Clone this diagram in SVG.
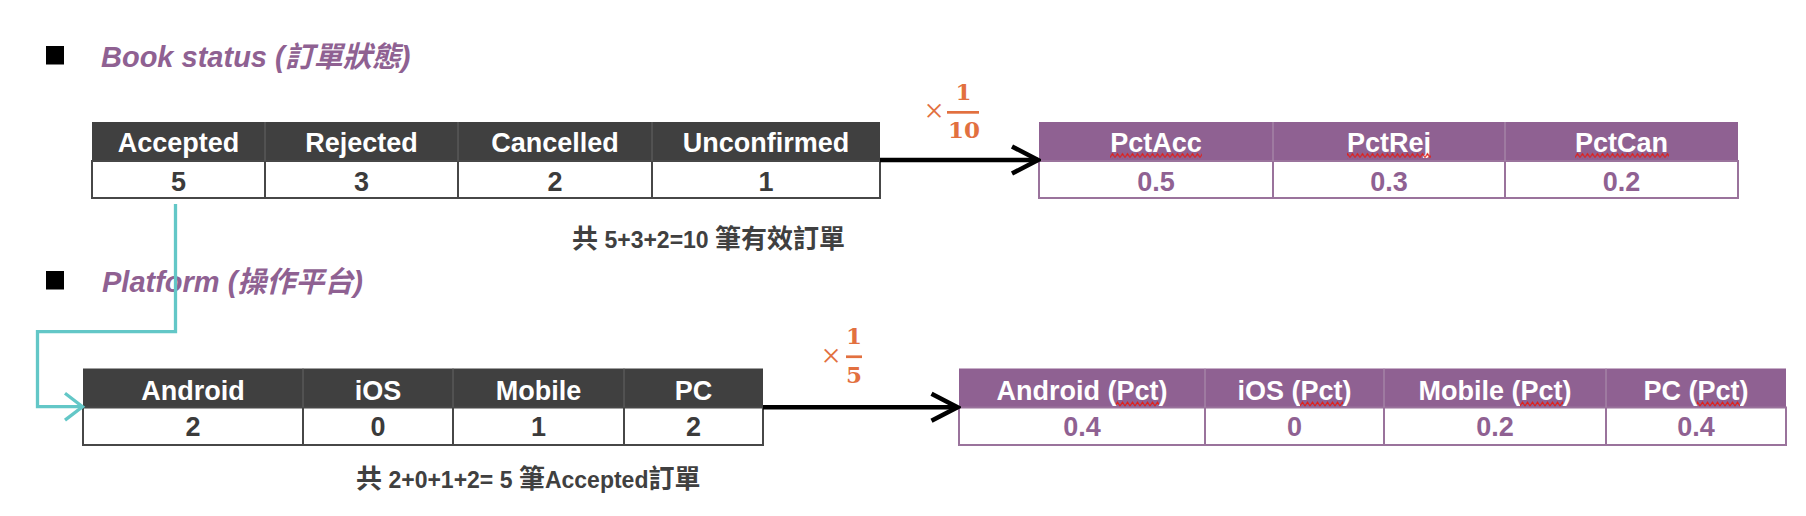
<svg xmlns="http://www.w3.org/2000/svg" width="1806" height="516" viewBox="0 0 1806 516">
<style>
  text { font-family: "Liberation Sans", "Noto Sans CJK TC", sans-serif; }
  .title { font-size: 29px; font-weight: bold; font-style: italic; fill: #8F6192; }
  .hdr { font-size: 27px; font-weight: bold; fill: #ffffff; text-anchor: middle; }
  .val { font-size: 27px; font-weight: bold; fill: #3b3b3b; text-anchor: middle; }
  .pval { font-size: 27px; font-weight: bold; fill: #8F6192; text-anchor: middle; }
  .cap { font-size: 23px; font-weight: bold; fill: #404040; }
  .cjk { font-size: 26px; }
  .darkhead { fill: #404040; }
  .darkbody { fill: #ffffff; stroke: #474747; stroke-width: 2; }
  .darkdivh { stroke: #5e5e5e; stroke-width: 1.2; }
  .darkdivb { stroke: #474747; stroke-width: 2; }
  .purphead { fill: #8F6192; }
  .purpbody { fill: #ffffff; stroke: #9A739C; stroke-width: 2; }
  .purpdivh { stroke: #A98BAB; stroke-width: 1.2; }
  .purpdivb { stroke: #9A739C; stroke-width: 2; }
  .frac { font-family: "DejaVu Serif", "Liberation Serif", serif; font-size: 23px; font-weight: bold; fill: #E2703F; text-anchor: middle; }
  .times { font-family: "Liberation Serif", serif; font-size: 34px; fill: #E2703F; text-anchor: middle; }
  .bar { fill: #E2703F; }
  .link { fill: none; stroke: #000000; stroke-width: 4.5; }
  .teal { fill: none; stroke: #63C7C7; stroke-width: 3.3; }
</style>
<defs>
  <marker id="chev" markerUnits="userSpaceOnUse" viewBox="0 0 32 32" refX="29" refY="16" markerWidth="32" markerHeight="32" orient="auto">
    <path d="M3,2.5 L29,16 L3,29.5" fill="none" stroke="#000000" stroke-width="4.5"/>
  </marker>
  <marker id="chevTeal" markerUnits="userSpaceOnUse" viewBox="0 0 24 32" refX="21" refY="16" markerWidth="24" markerHeight="32" orient="auto">
    <path d="M3.5,2.6 L21,16 L3.5,29.4" fill="none" stroke="#63C7C7" stroke-width="3.3"/>
  </marker>
  <pattern id="sqTop" patternUnits="userSpaceOnUse" x="0" y="152.5" width="5" height="6">
    <path d="M-1,5 L0,5 L2.5,1.2 L5,5 L6,5" fill="none" stroke="#E0201A" stroke-width="1.2"/>
  </pattern>
  <pattern id="sqBot" patternUnits="userSpaceOnUse" x="0" y="401" width="5" height="6">
    <path d="M-1,5 L0,5 L2.5,1.2 L5,5 L6,5" fill="none" stroke="#E0201A" stroke-width="1.2"/>
  </pattern>
</defs>
<rect x="0" y="0" width="1806" height="516" fill="#ffffff"/>

<g id="title-book-status">
  <rect x="46" y="46" width="18" height="18.5" fill="#000000"/>
  <text class="title" x="101" y="67">Book status (訂單狀態)</text>
</g>

<g id="title-platform">
  <rect x="46" y="271" width="18" height="18.5" fill="#000000"/>
  <text class="title" x="102" y="291.5">Platform (操作平台)</text>
</g>

<g id="table-book-status">
  <rect class="darkhead" x="92" y="122" width="788" height="39"/>
  <rect class="darkbody" x="92" y="161" width="788" height="37"/>
  <line class="darkdivh" x1="265" y1="122" x2="265" y2="161"/>
  <line class="darkdivh" x1="458" y1="122" x2="458" y2="161"/>
  <line class="darkdivh" x1="652" y1="122" x2="652" y2="161"/>
  <line class="darkdivb" x1="265" y1="161" x2="265" y2="198"/>
  <line class="darkdivb" x1="458" y1="161" x2="458" y2="198"/>
  <line class="darkdivb" x1="652" y1="161" x2="652" y2="198"/>
  <text class="hdr" x="178.5" y="151.5">Accepted</text>
  <text class="hdr" x="361.5" y="151.5">Rejected</text>
  <text class="hdr" x="555" y="151.5">Cancelled</text>
  <text class="hdr" x="766" y="151.5">Unconfirmed</text>
  <text class="val" x="178.5" y="191">5</text>
  <text class="val" x="361.5" y="191">3</text>
  <text class="val" x="555" y="191">2</text>
  <text class="val" x="766" y="191">1</text>
</g>

<g id="table-book-pct">
  <rect class="purphead" x="1039" y="122" width="699" height="39"/>
  <rect class="purpbody" x="1039" y="161" width="699" height="37"/>
  <line class="purpdivh" x1="1273" y1="122" x2="1273" y2="161"/>
  <line class="purpdivh" x1="1505" y1="122" x2="1505" y2="161"/>
  <line class="purpdivb" x1="1273" y1="161" x2="1273" y2="198"/>
  <line class="purpdivb" x1="1505" y1="161" x2="1505" y2="198"/>
  <text class="hdr" x="1156" y="151.5">PctAcc</text>
  <text class="hdr" x="1389" y="151.5">PctRej</text>
  <text class="hdr" x="1621.5" y="151.5">PctCan</text>
  <rect x="1110" y="152.5" width="92" height="6" fill="url(#sqTop)"/>
  <rect x="1347" y="152.5" width="84" height="6" fill="url(#sqTop)"/>
  <rect x="1575" y="152.5" width="94" height="6" fill="url(#sqTop)"/>
  <text class="pval" x="1156" y="191">0.5</text>
  <text class="pval" x="1389" y="191">0.3</text>
  <text class="pval" x="1621.5" y="191">0.2</text>
</g>

<g id="caption-book">
  <text class="cap" x="572" y="248"><tspan class="cjk">共</tspan> 5+3+2=10 <tspan class="cjk">筆有效訂單</tspan></text>
</g>

<g id="table-platform">
  <rect class="darkhead" x="83" y="368.5" width="680" height="39"/>
  <rect class="darkbody" x="83" y="407.5" width="680" height="37.5"/>
  <line class="darkdivh" x1="303" y1="368.5" x2="303" y2="407.5"/>
  <line class="darkdivh" x1="453" y1="368.5" x2="453" y2="407.5"/>
  <line class="darkdivh" x1="624" y1="368.5" x2="624" y2="407.5"/>
  <line class="darkdivb" x1="303" y1="407.5" x2="303" y2="445"/>
  <line class="darkdivb" x1="453" y1="407.5" x2="453" y2="445"/>
  <line class="darkdivb" x1="624" y1="407.5" x2="624" y2="445"/>
  <text class="hdr" x="193" y="399.5">Android</text>
  <text class="hdr" x="378" y="399.5">iOS</text>
  <text class="hdr" x="538.5" y="399.5">Mobile</text>
  <text class="hdr" x="693.5" y="399.5">PC</text>
  <text class="val" x="193" y="436">2</text>
  <text class="val" x="378" y="436">0</text>
  <text class="val" x="538.5" y="436">1</text>
  <text class="val" x="693.5" y="436">2</text>
</g>

<g id="table-platform-pct">
  <rect class="purphead" x="959" y="368.5" width="827" height="39"/>
  <rect class="purpbody" x="959" y="407.5" width="827" height="37.5"/>
  <line class="purpdivh" x1="1205" y1="368.5" x2="1205" y2="407.5"/>
  <line class="purpdivh" x1="1384" y1="368.5" x2="1384" y2="407.5"/>
  <line class="purpdivh" x1="1606" y1="368.5" x2="1606" y2="407.5"/>
  <line class="purpdivb" x1="1205" y1="407.5" x2="1205" y2="445"/>
  <line class="purpdivb" x1="1384" y1="407.5" x2="1384" y2="445"/>
  <line class="purpdivb" x1="1606" y1="407.5" x2="1606" y2="445"/>
  <text class="hdr" x="1082" y="399.5">Android (Pct)</text>
  <text class="hdr" x="1294.5" y="399.5">iOS (Pct)</text>
  <text class="hdr" x="1495" y="399.5">Mobile (Pct)</text>
  <text class="hdr" x="1696" y="399.5">PC (Pct)</text>
  <rect x="1116" y="401" width="43" height="6" fill="url(#sqBot)"/>
  <rect x="1300" y="401" width="43" height="6" fill="url(#sqBot)"/>
  <rect x="1520" y="401" width="43" height="6" fill="url(#sqBot)"/>
  <rect x="1697" y="401" width="43" height="6" fill="url(#sqBot)"/>
  <text class="pval" x="1082" y="436">0.4</text>
  <text class="pval" x="1294.5" y="436">0</text>
  <text class="pval" x="1495" y="436">0.2</text>
  <text class="pval" x="1696" y="436">0.4</text>
</g>

<g id="caption-platform">
  <text class="cap" x="356" y="488"><tspan class="cjk">共</tspan> 2+0+1+2= 5 <tspan class="cjk">筆</tspan>Accepted<tspan class="cjk">訂單</tspan></text>
</g>

<g id="connectors">
  <path id="link-book" class="link" d="M880,160 H1038" marker-end="url(#chev)"/>
  <path id="link-platform" class="link" d="M763,407.3 H957.5" marker-end="url(#chev)"/>
  <path id="link-accepted" class="teal" d="M175.5,204 V331.7 H37.5 V406.7 H82.5" marker-end="url(#chevTeal)"/>
  <g id="label-tenth">
    <text class="times" x="934" y="122">×</text>
    <text class="frac" x="963.5" y="99.5">1</text>
    <rect class="bar" x="947" y="111" width="32" height="2.7"/>
    <text class="frac" x="964" y="137.5">10</text>
  </g>
  <g id="label-fifth">
    <text class="times" x="831" y="366.5">×</text>
    <text class="frac" x="854" y="343.5">1</text>
    <rect class="bar" x="846" y="355.4" width="16" height="2.7"/>
    <text class="frac" x="854" y="382.5">5</text>
  </g>
</g>
</svg>
